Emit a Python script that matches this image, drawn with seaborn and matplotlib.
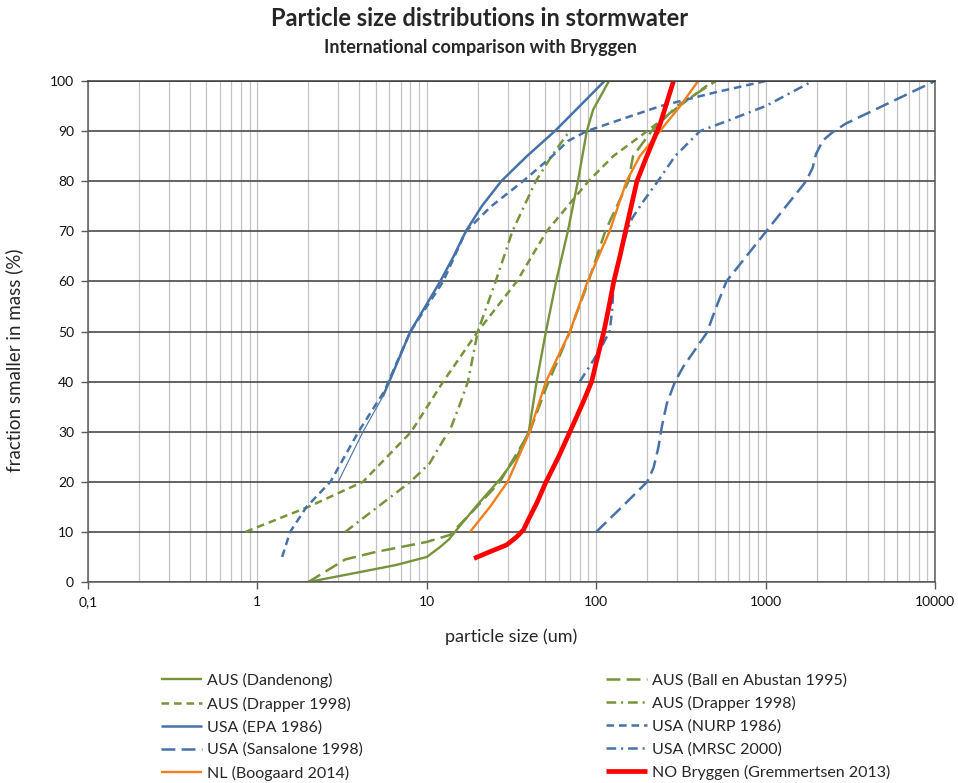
import numpy as np
import matplotlib
matplotlib.use("Agg")
import matplotlib.pyplot as plt
from matplotlib.ticker import FixedLocator, FixedFormatter, LogLocator, NullFormatter
import seaborn as sns

# ---- particle size distributions (size in um, cumulative % smaller in mass) ----
dandenong_x = [2.0, 4.2, 6.6, 10, 12, 13.5, 15.5, 20, 27, 34, 40, 44.5, 50.5, 58, 68, 78, 88, 96, 119]
dandenong_y = [0, 2.1, 3.4, 5.0, 7.0, 8.5, 11, 15.5, 20.5, 25, 30, 40, 50, 60, 70, 80, 90, 94.3, 100]

ball_x = [2.0, 3.3, 5.0, 10, 13.7, 19, 27, 40.5, 51, 70, 90, 113, 155, 165, 212, 300, 510]
ball_y = [0, 4.5, 6.0, 8.0, 9.4, 14.4, 20, 30, 39, 50, 60, 70, 80, 85, 90, 95, 100]

drapper_a_x = [0.85, 2.0, 4.2, 8.1, 12.5, 20, 34, 51, 90, 126, 200, 310, 490]
drapper_a_y = [10, 15, 20, 30, 40, 50, 60, 70, 80, 85, 90, 95, 100]

drapper_b_x = [3.3, 8.0, 10.4, 12.5, 13.7, 15.5, 17.5, 20, 25.5, 32, 44, 54.5, 69.5]
drapper_b_y = [10, 20, 23.7, 28.3, 30.3, 35, 40, 50, 60, 70, 80, 85, 90]

epa_x = [3.0, 4.2, 5.5, 6.0, 8.0, 9.8, 12.0, 14.4, 17.0, 21.1, 27.5, 39, 57, 80, 112]
epa_y = [20, 30, 37, 40, 50, 55, 60, 65, 70, 75, 80, 85, 90, 95, 100]

nurp_x = [1.4, 1.56, 1.95, 2.7, 3.95, 5.6, 8.0, 12.5, 17, 24, 37, 55, 68, 88, 145, 240, 500, 1000]
nurp_y = [5, 10, 15, 20, 30, 38, 50, 60, 70, 75, 80, 85, 88, 90, 92.5, 95, 97.7, 100]

sansalone_x = [100, 142, 200, 218, 233, 244, 261, 292, 327, 449, 513, 587, 769, 1009, 1321,
               1734, 1897, 1984, 2173, 2491, 2976, 10000]
sansalone_y = [10, 15, 20, 22.8, 26.9, 31, 35.6, 40, 43, 49.7, 55, 60, 65, 70, 75,
               80, 82.7, 85.4, 88.1, 89.8, 91.5, 100]

mrsc_x = [80, 90, 105, 120, 124, 127, 136, 152, 163, 190, 239, 292, 410, 590, 1000, 1900]
mrsc_y = [40, 42.7, 46.3, 50, 54, 60, 64.6, 70, 72.6, 76, 80.7, 85, 90, 92, 95, 100]

boogaard_x = [18, 23.6, 30, 40.5, 50.5, 70, 89, 120, 151, 181, 238, 313, 400]
boogaard_y = [10, 15, 20, 30, 40, 50, 60, 70, 80, 85, 90, 95, 100]

bryggen_x = [19, 23.6, 29.6, 33.9, 37.2, 39.7, 44.5, 50.6, 60, 70, 84, 94, 103, 111, 119, 127,
             138, 149, 161, 174, 199, 239, 286]
bryggen_y = [4.7, 6.05, 7.4, 9.0, 10.4, 12.4, 15.7, 20, 25, 30, 36, 40, 45.6, 50, 55, 60,
             65, 70, 75, 80, 85, 91.5, 100]

x_ticks = [0.1, 1, 10, 100, 1000, 10000]
x_tick_labels = ["0,1", "1", "10", "100", "1000", "10000"]
y_ticks = list(range(0, 101, 10))

GREEN = "#77933C"
BLUE = "#4772A8"
ORANGE = "#F07F1E"
RED = "#FF0000"

SOLID = "-"
LONG = (0, (10, 4.5))
SHORT = (0, (5.5, 3.5))
DASHDOT = (0, (7, 3.5, 1.5, 3.5))

series = [
    ("AUS (Dandenong)", dandenong_x, dandenong_y, GREEN, 1.7, SOLID),
    ("AUS (Ball en Abustan 1995)", ball_x, ball_y, GREEN, 1.8, LONG),
    ("AUS (Drapper 1998)", drapper_a_x, drapper_a_y, GREEN, 1.8, SHORT),
    ("AUS (Drapper 1998)", drapper_b_x, drapper_b_y, GREEN, 1.8, DASHDOT),
    ("USA (EPA 1986)", epa_x, epa_y, BLUE, 1.8, SOLID),
    ("USA (NURP 1986)", nurp_x, nurp_y, BLUE, 1.8, SHORT),
    ("USA (Sansalone 1998)", sansalone_x, sansalone_y, BLUE, 1.8, LONG),
    ("USA (MRSC 2000)", mrsc_x, mrsc_y, BLUE, 1.8, DASHDOT),
    ("NL (Boogaard 2014)", boogaard_x, boogaard_y, ORANGE, 1.7, SOLID),
    ("NO Bryggen (Gremmertsen 2013)", bryggen_x, bryggen_y, RED, 3.4, SOLID),
]

sns.set_theme(style="white")
plt.rcParams["font.family"] = ["Lato", "DejaVu Sans"]
plt.rcParams["lines.scale_dashes"] = False

fig = plt.figure(figsize=(9.58, 7.83), dpi=100)
W, H = 958, 783
ax = fig.add_axes([88 / W, 1 - 582 / H, (935 - 88) / W, (582 - 81) / H])

entries = []
for label, xs, ys, color, lw, ls in series:
    if label == "USA (EPA 1986)":
        # lower part of the EPA curve is drawn with a thinner stroke
        sns.lineplot(x=xs[:3], y=ys[:3], ax=ax, color=color, linewidth=0.8,
                     sort=False, estimator=None, errorbar=None, legend=False)
        sns.lineplot(x=xs[2:], y=ys[2:], ax=ax, color=color, linewidth=lw,
                     sort=False, estimator=None, errorbar=None, legend=False)
    else:
        sns.lineplot(x=xs, y=ys, ax=ax, color=color, linewidth=lw, linestyle=ls,
                     sort=False, estimator=None, errorbar=None, legend=False)
    line = ax.lines[-1]
    line.set_solid_capstyle("butt")
    line.set_solid_joinstyle("round")
    entries.append((line, label))

ax.set_xscale("log")
ax.set_xlim(0.1, 10000)
ax.set_ylim(0, 100)
ax.xaxis.set_major_locator(FixedLocator(x_ticks))
ax.xaxis.set_major_formatter(FixedFormatter(x_tick_labels))
ax.xaxis.set_minor_locator(LogLocator(base=10, subs=np.arange(2, 10)))
ax.xaxis.set_minor_formatter(NullFormatter())
ax.yaxis.set_major_locator(FixedLocator(y_ticks))

ax.set_axisbelow(True)
ax.grid(which="both", axis="x", color="#C4C4C4", linewidth=0.9)
ax.grid(which="major", axis="y", color="#3A3A3A", linewidth=1.1)

for side in ["left", "bottom", "right"]:
    ax.spines[side].set_visible(True)
    ax.spines[side].set_color("#5A5A5A")
    ax.spines[side].set_linewidth(1.1)
ax.spines["top"].set_color("#3A3A3A")
ax.spines["top"].set_linewidth(1.1)

ax.tick_params(axis="both", which="major", direction="out", length=5, width=1,
               color="#5A5A5A", labelsize=10, labelcolor="#111111", pad=5,
               bottom=True, left=True)
ax.tick_params(axis="x", which="minor", length=0)
ax.set_xlabel("")
ax.set_ylabel("")

fig.text(480 / W, 1 - 18 / H, "Particle size distributions in stormwater",
         ha="center", va="center", fontsize=17, fontweight="bold")
fig.text(480 / W, 1 - 47 / H, "International comparison with Bryggen",
         ha="center", va="center", fontsize=13, fontweight="bold")
fig.text(14 / W, 1 - 360 / H, "fraction smaller in mass (%)", rotation=90,
         ha="center", va="center", fontsize=13.5)
fig.text(511 / W, 1 - 637 / H, "particle size (um)", ha="center", va="center",
         fontsize=13)

col1 = entries[0::2]
col2 = entries[1::2]
leg_kw = dict(frameon=False, fontsize=11.5, handlelength=2.55, handletextpad=0.3,
              labelspacing=0.53, borderpad=0, borderaxespad=0, loc="upper left")
leg1 = fig.legend([h for h, _ in col1], [l for _, l in col1],
                  bbox_to_anchor=(161 / W, 1 - 673 / H), **leg_kw)
leg2 = fig.legend([h for h, _ in col2], [l for _, l in col2],
                  bbox_to_anchor=(606 / W, 1 - 673 / H), **leg_kw)

fig.savefig("out.png", dpi=100)
